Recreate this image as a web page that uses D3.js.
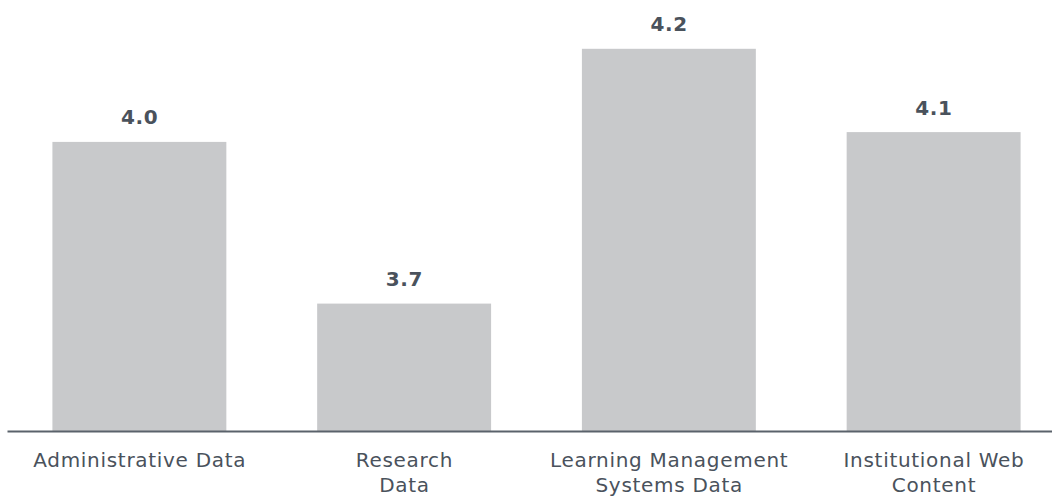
<!DOCTYPE html>
<html>
<head>
<meta charset="utf-8">
<script src="https://cdn.jsdelivr.net/npm/d3@7"></script>
<style>
  html, body { margin: 0; padding: 0; background: #ffffff; }
  svg { display: block; }
</style>
</head>
<body>
<svg id="chart" width="1052" height="496"></svg>
<script>
const categories = ["Administrative Data", "Research Data", "Learning Management Systems Data", "Institutional Web Content"];
const categoryLines = [["Administrative Data"], ["Research", "Data"], ["Learning Management", "Systems Data"], ["Institutional Web", "Content"]];
const values = [4.04, 3.71, 4.23, 4.06];

const svg = d3.select("#chart");
const baseY = 431;

const x = d3.scaleBand()
  .domain(categories)
  .range([7, 1066])
  .paddingInner(0.343)
  .paddingOuter(0.1715);

const y = d3.scaleLinear()
  .domain([3.45, 4.3])
  .range([baseY, baseY - 490 * 0.85]);

const data = categories.map((c, i) => ({ c, v: values[i], lines: categoryLines[i] }));

svg.selectAll("rect.bar")
  .data(data)
  .join("rect")
  .attr("class", "bar")
  .attr("x", d => x(d.c))
  .attr("width", x.bandwidth())
  .attr("y", d => y(d.v))
  .attr("height", d => baseY - y(d.v))
  .attr("fill", "#c8c9cb");

// axis baseline
const axis = d3.axisBottom(x).tickSize(0).tickFormat("");
const axisG = svg.append("g").attr("transform", `translate(0,${baseY})`).call(axis);
axisG.select(".domain").attr("stroke", "#5a626b").attr("stroke-width", 2);

svg.selectAll("text.val")
  .data(data)
  .join("text")
  .attr("class", "val")
  .attr("x", d => x(d.c) + x.bandwidth() / 2 + 0.3)
  .attr("y", d => y(d.v) - 17.5)
  .attr("text-anchor", "middle")
  .attr("font-family", "'DejaVu Sans', Verdana, sans-serif")
  .attr("font-weight", "bold")
  .attr("font-size", 20)
  .attr("letter-spacing", 0.6)
  .attr("fill", "#4a525c")
  .text(d => d3.format(".1f")(d.v));

const lab = svg.selectAll("text.cat")
  .data(data)
  .join("text")
  .attr("class", "cat")
  .attr("text-anchor", "middle")
  .attr("font-family", "'DejaVu Sans', Verdana, sans-serif")
  .attr("font-size", 20)
  .attr("letter-spacing", 0.7)
  .attr("fill", "#4a525c");

lab.selectAll("tspan")
  .data(d => d.lines.map(l => ({ l, cx: x(d.c) + x.bandwidth() / 2 + 0.35 })))
  .join("tspan")
  .attr("x", t => t.cx)
  .attr("y", (t, i) => 467 + i * 25.3)
  .text(t => t.l);
</script>
</body>
</html>
